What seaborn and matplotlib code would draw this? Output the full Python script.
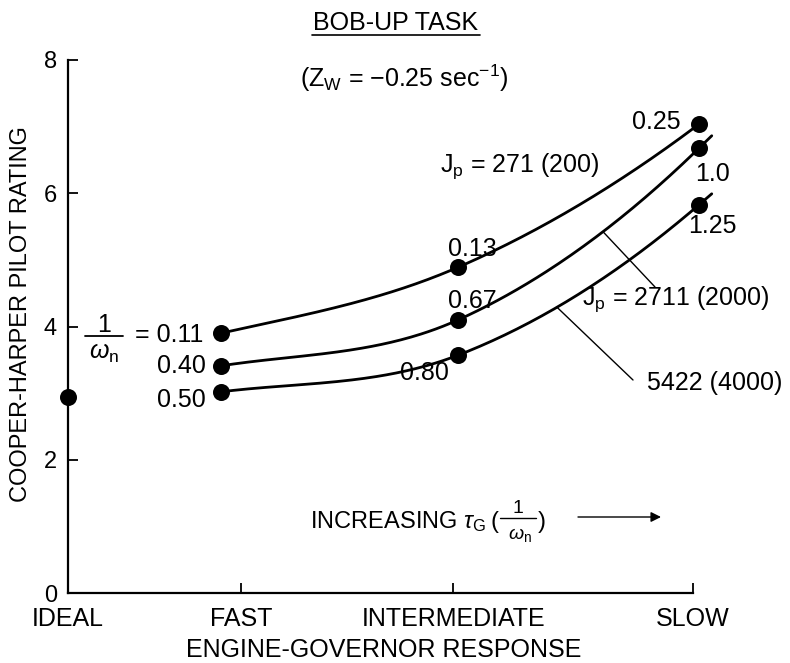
import numpy as np
import pandas as pd
import matplotlib
matplotlib.use("Agg")
import matplotlib.pyplot as plt
import seaborn as sns
from matplotlib.lines import Line2D

# ---------------- data ----------------
categories = ["IDEAL", "FAST", "INTERMEDIATE", "SLOW"]
category_ticks = [0.0, 0.83, 1.85, 3.0]
response_x = [0.735, 1.873, 3.03]          # FAST, INTERMEDIATE, SLOW configurations
ideal_x = [0.0]
ideal_rating = [2.94]
rating_jp271 = [3.90, 4.89, 7.04]          # J_p = 271 (200)
rating_jp2711 = [3.41, 4.10, 6.68]         # J_p = 2711 (2000)
rating_jp5422 = [3.02, 3.57, 5.83]         # J_p = 5422 (4000)
inv_wn_jp271 = ["= 0.11", "0.13", "0.25"]
inv_wn_jp2711 = ["0.40", "0.67", "1.0"]
inv_wn_jp5422 = ["0.50", "0.80", "1.25"]
y_ticks = [0, 2, 4, 6, 8]

# ---------------- style ----------------
sns.set_theme(style="ticks")
plt.rcParams["font.family"] = ["Liberation Sans", "DejaVu Sans"]
plt.rcParams["mathtext.fontset"] = "custom"
plt.rcParams["mathtext.rm"] = "Liberation Sans"
plt.rcParams["mathtext.it"] = "Liberation Sans:italic"
plt.rcParams["mathtext.bf"] = "Liberation Sans:bold"
for k in ["text.color", "axes.edgecolor", "axes.labelcolor", "xtick.color", "ytick.color"]:
    plt.rcParams[k] = "black"

W, H = 790, 663
fig = plt.figure(figsize=(W / 100, H / 100), dpi=100)
ax = fig.add_axes([68 / W, 1 - 593 / H, 625 / W, 533 / H])


def P(x, y):
    """pixel position (top-left origin) -> figure fraction"""
    return (x / W, 1 - y / H)


def smooth_curve(xk, yk, x_end, n=200):
    """monotone piecewise cubic Hermite through the given points"""
    xk = np.asarray(xk, float)
    yk = np.asarray(yk, float)
    h = np.diff(xk)
    s = np.diff(yk) / h
    m = np.empty(3)
    m[1] = (h[1] * s[0] + h[0] * s[1]) / (h[0] + h[1])
    m[0] = 0.8 * s[0]
    m[2] = 2 * s[1] - m[1]
    xs = np.linspace(xk[0], x_end, n)
    ys = np.empty_like(xs)
    for i, x in enumerate(xs):
        if x >= xk[-1]:
            ys[i] = yk[-1] + m[-1] * (x - xk[-1])
            continue
        j = 0 if x < xk[1] else 1
        t = (x - xk[j]) / h[j]
        h00 = 2 * t**3 - 3 * t**2 + 1
        h10 = t**3 - 2 * t**2 + t
        h01 = -2 * t**3 + 3 * t**2
        h11 = t**3 - t**2
        ys[i] = h00 * yk[j] + h10 * h[j] * m[j] + h01 * yk[j + 1] + h11 * h[j] * m[j + 1]
    return xs, ys


# ---------------- curves ----------------
series = [
    (rating_jp271, 3.03),
    (rating_jp2711, 3.09),
    (rating_jp5422, 3.09),
]
curves = []
for ratings, x_end in series:
    xs, ys = smooth_curve(response_x, ratings, x_end)
    curves.append((xs, ys))
    df = pd.DataFrame({"x": xs, "y": ys})
    sns.lineplot(data=df, x="x", y="y", ax=ax, color="black", lw=2.0,
                 sort=False, estimator=None)

for ln in ax.lines:
    ln.set_clip_on(False)

pts = pd.DataFrame({
    "x": ideal_x + response_x * 3,
    "y": ideal_rating + rating_jp271 + rating_jp2711 + rating_jp5422,
})
sns.scatterplot(data=pts, x="x", y="y", ax=ax, color="black", s=150,
                linewidth=0, zorder=4, clip_on=False)

# ---------------- axes ----------------
ax.set_xlim(0, 3)
ax.set_ylim(0, 8)
ax.set_xticks(category_ticks, categories)
ax.set_yticks(y_ticks)
sns.despine(ax=ax)
for sp in ["left", "bottom"]:
    ax.spines[sp].set_linewidth(1.6)
    ax.spines[sp].set_color("black")
ax.tick_params(axis="both", direction="in", length=7, width=1.3, colors="black")
ax.tick_params(axis="x", labelsize=18, pad=10)
ax.tick_params(axis="y", labelsize=17, pad=8)

ax.set_ylabel("COOPER-HARPER PILOT RATING", fontsize=17)
ax.yaxis.label.set_va("center")
ax.yaxis.set_label_coords((21 - 68) / 625, (593 - 314) / 533)
ax.set_xlabel("ENGINE-GOVERNOR RESPONSE", fontsize=18)
ax.xaxis.label.set_va("center")
ax.xaxis.set_label_coords((384 - 68) / 625, (593 - 650) / 533)

# ---------------- annotations ----------------
fs = 18
fig.text(*P(396, 30), "BOB-UP TASK", ha="center", va="baseline", fontsize=fs)
fig.add_artist(Line2D([312 / W, 480 / W], [1 - 35 / H, 1 - 35 / H],
                      color="black", lw=1.2, transform=fig.transFigure))
fig.text(*P(300, 87), r"(Z$_\mathrm{W}$ = −0.25 sec$^{-1}$)",
         ha="left", va="baseline", fontsize=fs)

fig.text(*P(440, 172), r"J$_\mathrm{p}$ = 271 (200)", ha="left", va="baseline", fontsize=fs)
fig.text(*P(582, 305), r"J$_\mathrm{p}$ = 2711 (2000)", ha="left", va="baseline", fontsize=fs)
fig.text(*P(647, 390), "5422 (4000)", ha="left", va="baseline", fontsize=fs)

# point labels
label_pos = {
    inv_wn_jp271[0]: (135, 342), inv_wn_jp271[1]: (448, 256), inv_wn_jp271[2]: (632, 129),
    inv_wn_jp2711[0]: (157, 373), inv_wn_jp2711[1]: (448, 308), inv_wn_jp2711[2]: (695, 181),
    inv_wn_jp5422[0]: (157, 407), inv_wn_jp5422[1]: (400, 380), inv_wn_jp5422[2]: (688, 233),
}
for txt, (px, py) in label_pos.items():
    fig.text(*P(px, py), txt, ha="left", va="baseline", fontsize=fs)

# 1/omega_n fraction next to the FAST labels
fig.text(*P(104, 332), "1", ha="center", va="baseline", fontsize=fs)
fig.add_artist(Line2D([85 / W, 123 / W], [1 - 336 / H, 1 - 336 / H],
                      color="black", lw=1.3, transform=fig.transFigure))
fig.text(*P(104, 359), r"$\omega_\mathrm{n}$", ha="center", va="baseline", fontsize=fs)

# leader lines
for (xs, ys), px0, end_px in [(curves[1], 603, (655, 287)),
                              (curves[2], 557, (633, 380))]:
    x0 = (px0 - 68) / 208.33
    ax.annotate("", xy=(x0, np.interp(x0, xs, ys)), xycoords="data",
                xytext=P(*end_px), textcoords="figure fraction",
                arrowprops=dict(arrowstyle="-", color="black", lw=1.0,
                                shrinkA=0, shrinkB=0))

# increasing tau_G arrow (pieces laid out from measured text extents)
renderer = fig.canvas.get_renderer()
t_inc = fig.text(*P(310, 528), r"INCREASING $\tau_\mathrm{G}$", ha="left",
                 va="baseline", fontsize=17)
x_cur = t_inc.get_window_extent(renderer).x1 + 4          # display pixels (bottom-left origin)
t_open = fig.text(x_cur / W, 1 - 528 / H, "(", ha="left", va="baseline", fontsize=17)
x_cur = t_open.get_window_extent(renderer).x1 + 1
frac_c = x_cur + 19
fig.text(frac_c / W, 1 - 513 / H, "1", ha="center", va="baseline", fontsize=14)
fig.add_artist(Line2D([(frac_c - 18) / W, (frac_c + 18) / W], [1 - 518 / H, 1 - 518 / H],
                      color="black", lw=1.0, transform=fig.transFigure))
fig.text((frac_c + 2) / W, 1 - 539 / H, r"$\omega_\mathrm{n}$", ha="center",
         va="baseline", fontsize=14)
t_close = fig.text((frac_c + 20) / W, 1 - 528 / H, ")", ha="left", va="baseline", fontsize=17)
x_arrow = max(t_close.get_window_extent(renderer).x1 + 14, 578)
ax.annotate("", xy=P(661, 517), xycoords="figure fraction",
            xytext=(x_arrow / W, 1 - 517 / H), textcoords="figure fraction",
            arrowprops=dict(arrowstyle="-|>", color="black", lw=1.0,
                            mutation_scale=15, shrinkA=0, shrinkB=0))

fig.savefig("out.png", dpi=100)
